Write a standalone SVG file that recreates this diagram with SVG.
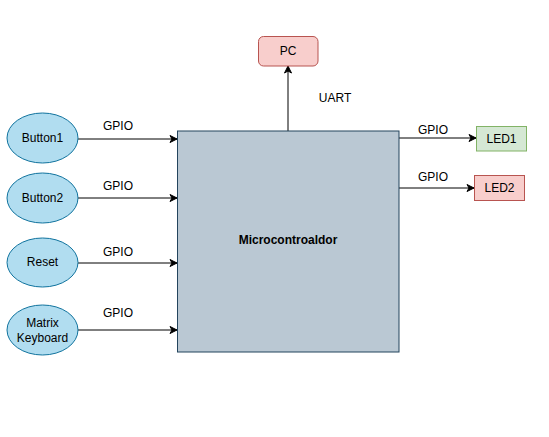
<svg xmlns="http://www.w3.org/2000/svg" width="549" height="437" viewBox="0 0 549 437">
<defs>
<marker id="arr" markerWidth="10" markerHeight="10" refX="8" refY="5" orient="auto" markerUnits="userSpaceOnUse">
<path d="M1,1.5 L8,5 L1,8.5 L3,5 Z" fill="#000" stroke="#000" stroke-width="1"/>
</marker>
<style>
text{font-family:"Liberation Sans",Arial,sans-serif;font-size:12px;fill:#000}
.in ellipse{fill:#b1ddf0;stroke:#10739e;stroke-width:1}
.c{text-anchor:middle;dominant-baseline:central}
.ln{fill:none;stroke:#000;stroke-width:1;marker-end:url(#arr)}
</style>
</defs>
<rect width="549" height="437" fill="#fff"/>
<g id="connectors">
<path class="ln" d="M78,139 H177"/>
<path class="ln" d="M78,198 H177"/>
<path class="ln" d="M78,263 H177"/>
<path class="ln" d="M78,330 H177"/>
<path class="ln" d="M288,131 V66"/>
<path class="ln" d="M399,138 H476"/>
<path class="ln" d="M399,188 H474"/>
<text x="118" y="126" class="c">GPIO</text>
<text x="118" y="186" class="c">GPIO</text>
<text x="118" y="252" class="c">GPIO</text>
<text x="118" y="313" class="c">GPIO</text>
<text x="335" y="98" class="c">UART</text>
<text x="433" y="130" class="c">GPIO</text>
<text x="433" y="177" class="c">GPIO</text>
</g>
<g id="mcu">
<rect x="177.5" y="131" width="221.5" height="221" fill="#bac8d3" stroke="#23445d"/>
<text x="288" y="240" class="c" font-weight="bold">Microcontroaldor</text>
</g>
<g id="button1" class="in">
<ellipse cx="42.5" cy="138" rx="35.5" ry="25"/>
<text x="42.5" y="138" class="c">Button1</text>
</g>
<g id="button2" class="in">
<ellipse cx="42.5" cy="198" rx="35.5" ry="25"/>
<text x="42.5" y="198" class="c">Button2</text>
</g>
<g id="reset" class="in">
<ellipse cx="42.5" cy="262.5" rx="35.5" ry="24.5"/>
<text x="42.5" y="262" class="c">Reset</text>
</g>
<g id="keyboard" class="in">
<ellipse cx="42.5" cy="330" rx="35.5" ry="25"/>
<text x="42.5" y="323" class="c">Matrix</text>
<text x="42.5" y="338" class="c">Keyboard</text>
</g>
<g id="pc">
<rect x="258.5" y="36.5" width="59.5" height="29.5" rx="5" fill="#f8cecc" stroke="#b85450"/>
<text x="288" y="51" class="c">PC</text>
</g>
<g id="led1">
<rect x="476.5" y="126.5" width="50" height="24.5" fill="#d5e8d4" stroke="#82b366"/>
<text x="501.5" y="138.5" class="c">LED1</text>
</g>
<g id="led2">
<rect x="474.5" y="175.5" width="50" height="25" fill="#f8cecc" stroke="#b85450"/>
<text x="499.5" y="188" class="c">LED2</text>
</g>
</svg>
